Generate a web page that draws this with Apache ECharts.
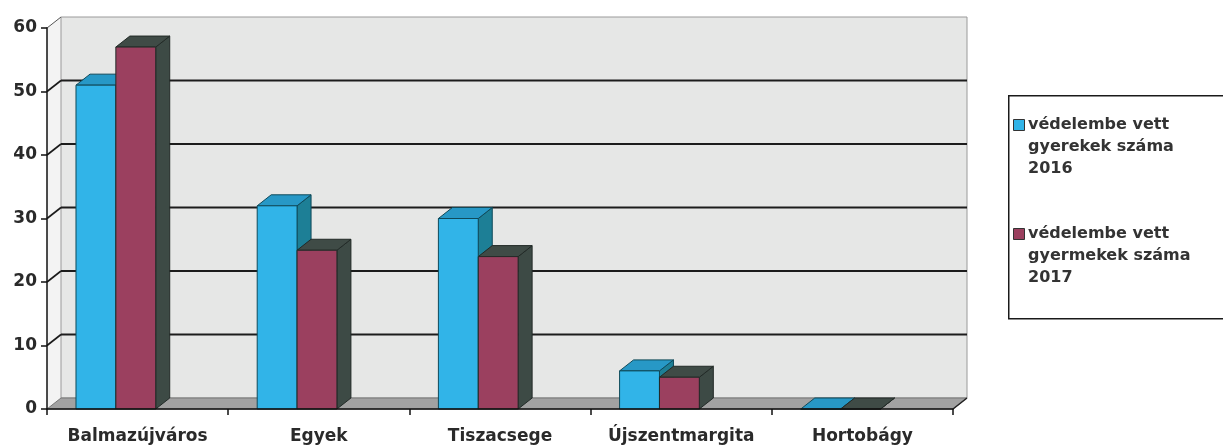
<!DOCTYPE html>
<html>
<head>
<meta charset="utf-8">
<script src="https://cdn.jsdelivr.net/npm/echarts@6/dist/echarts.min.js"></script>
<style>
html,body{margin:0;padding:0;background:#ffffff;}
#chart{width:1223px;height:445px;}
</style>
</head>
<body>
<div id="chart"></div>
<script>
const categories = ['Balmazújváros', 'Egyek', 'Tiszacsege', 'Újszentmargita', 'Hortobágy'];
const values2016 = [51, 32, 30, 6, 0];
const values2017 = [57, 25, 24, 5, 0];
const seriesNames = ['védelembe vett\ngyerekek száma\n2016', 'védelembe vett\ngyermekek száma\n2017'];
const yMin = 0, yMax = 60, yInterval = 10;
const yTicks = [0, 10, 20, 30, 40, 50, 60];

const DX = 14, DY = -11;
const FONT = 'DejaVu Sans';
const palette = [
  {front: '#31b4e8', side: '#1d7f96', top: '#2798c6', edge: '#0f4a5a'},
  {front: '#9b405f', side: '#3d4a45', top: '#3f4b46', edge: '#222a27'}
];

const chart = echarts.init(document.getElementById('chart'), null, {renderer: 'canvas'});

function wallItem(params, api) {
  const cs = params.coordSys;
  const x0 = cs.x, x1 = cs.x + cs.width;
  const yb = api.coord([0, yMin])[1];
  const yt = api.coord([0, yMax])[1];
  const children = [];
  children.push({type: 'polygon', shape: {points: [[x0, yb], [x0, yt], [x0 + DX, yt + DY], [x0 + DX, yb + DY]]},
    style: {fill: '#f3f3f3', stroke: null}});
  children.push({type: 'rect', shape: {x: x0 + DX, y: yt + DY, width: x1 - x0, height: yb - yt},
    style: {fill: '#e6e7e6', stroke: '#9a9a9a', lineWidth: 1}});
  children.push({type: 'polygon', shape: {points: [[x0, yb], [x1, yb], [x1 + DX, yb + DY], [x0 + DX, yb + DY]]},
    style: {fill: '#a2a2a2', stroke: '#777', lineWidth: 1}});
  yTicks.forEach(function (v) {
    if (v === yMin) return;
    const y = api.coord([0, v])[1];
    const major = v !== yMax;
    children.push({type: 'line', shape: {x1: x0, y1: y, x2: x0 + DX, y2: y + DY},
      style: {stroke: major ? '#1a1a1a' : '#555', lineWidth: major ? 1.6 : 1}});
    if (major) {
      children.push({type: 'line', shape: {x1: x0 + DX, y1: y + DY, x2: x1 + DX, y2: y + DY},
        style: {stroke: '#1c1c1c', lineWidth: 2}});
    }
  });
  children.push({type: 'line', shape: {x1: x1, y1: yb, x2: x1 + DX, y2: yb + DY},
    style: {stroke: '#222', lineWidth: 1.5}});
  return {type: 'group', children: children};
}

function makeBarRender(k) {
  return function (params, api) {
    const idx = api.value(0);
    const val = api.value(1);
    const c = api.coord([idx, val]);
    const base = api.coord([idx, 0])[1];
    const bw = api.size([1, 0])[0];
    const w = bw * 0.22;
    const xl = c[0] - bw * 0.34 + k * w;
    const yt = c[1];
    const col = palette[k];
    const st = {stroke: col.edge, lineWidth: 1};
    return {type: 'group', children: [
      {type: 'polygon', shape: {points: [[xl + w, yt], [xl + w + DX, yt + DY], [xl + w + DX, base + DY], [xl + w, base]]},
        style: Object.assign({fill: col.side}, st)},
      {type: 'polygon', shape: {points: [[xl, yt], [xl + DX, yt + DY], [xl + w + DX, yt + DY], [xl + w, yt]]},
        style: Object.assign({fill: col.top}, st)},
      {type: 'rect', shape: {x: xl, y: yt, width: w, height: base - yt},
        style: Object.assign({fill: col.front}, st)}
    ]};
  };
}

const legendX = 1008, legendY = 95;
const legendGraphic = [
  {type: 'rect', left: legendX, top: legendY, shape: {x: 0, y: 0, width: 260, height: 223},
    style: {fill: '#ffffff', stroke: '#1a1a1a', lineWidth: 1.5}, z: 10}
];
seriesNames.forEach(function (name, k) {
  const top = legendY + 24 + k * 109;
  legendGraphic.push({type: 'rect', left: legendX + 5, top: top, shape: {x: 0, y: 0, width: 11, height: 11},
    style: {fill: palette[k].front, stroke: '#333', lineWidth: 1}, z: 11});
  legendGraphic.push({type: 'text', left: legendX + 20, top: top - 5,
    style: {text: name, font: 'bold 16px "' + FONT + '"', fill: '#333', lineHeight: 22}, z: 11});
});

chart.setOption({
  animation: false,
  backgroundColor: '#ffffff',
  grid: {left: 47, right: 270, top: 28, bottom: 35, containLabel: false},
  xAxis: {
    type: 'category', data: categories, boundaryGap: true,
    axisLine: {show: true, lineStyle: {color: '#111', width: 1.5}},
    axisTick: {show: true, length: 6, alignWithLabel: false, lineStyle: {color: '#111', width: 1.5}},
    axisLabel: {fontFamily: FONT, fontWeight: 'bold', fontSize: 17, color: '#2a2a2a', margin: 19, interval: 0},
    splitLine: {show: false}, z: 5
  },
  yAxis: {
    type: 'value', min: yMin, max: yMax, interval: yInterval,
    axisLine: {show: true, lineStyle: {color: '#111', width: 1.5}},
    axisTick: {show: true, length: 6, lineStyle: {color: '#111', width: 1.5}},
    axisLabel: {fontFamily: FONT, fontWeight: 'bold', fontSize: 17, color: '#2a2a2a', margin: 10},
    splitLine: {show: false}, z: 5
  },
  series: [
    {type: 'custom', name: 'walls', renderItem: wallItem, data: [[0, 0]], z: 1, silent: true, clip: false},
    {type: 'custom', name: seriesNames[0], renderItem: makeBarRender(0), z: 2, clip: false,
      data: categories.map(function (c, i) { return [i, values2016[i]]; })},
    {type: 'custom', name: seriesNames[1], renderItem: makeBarRender(1), z: 3, clip: false,
      data: categories.map(function (c, i) { return [i, values2017[i]]; })}
  ],
  graphic: legendGraphic
});
</script>
</body>
</html>
